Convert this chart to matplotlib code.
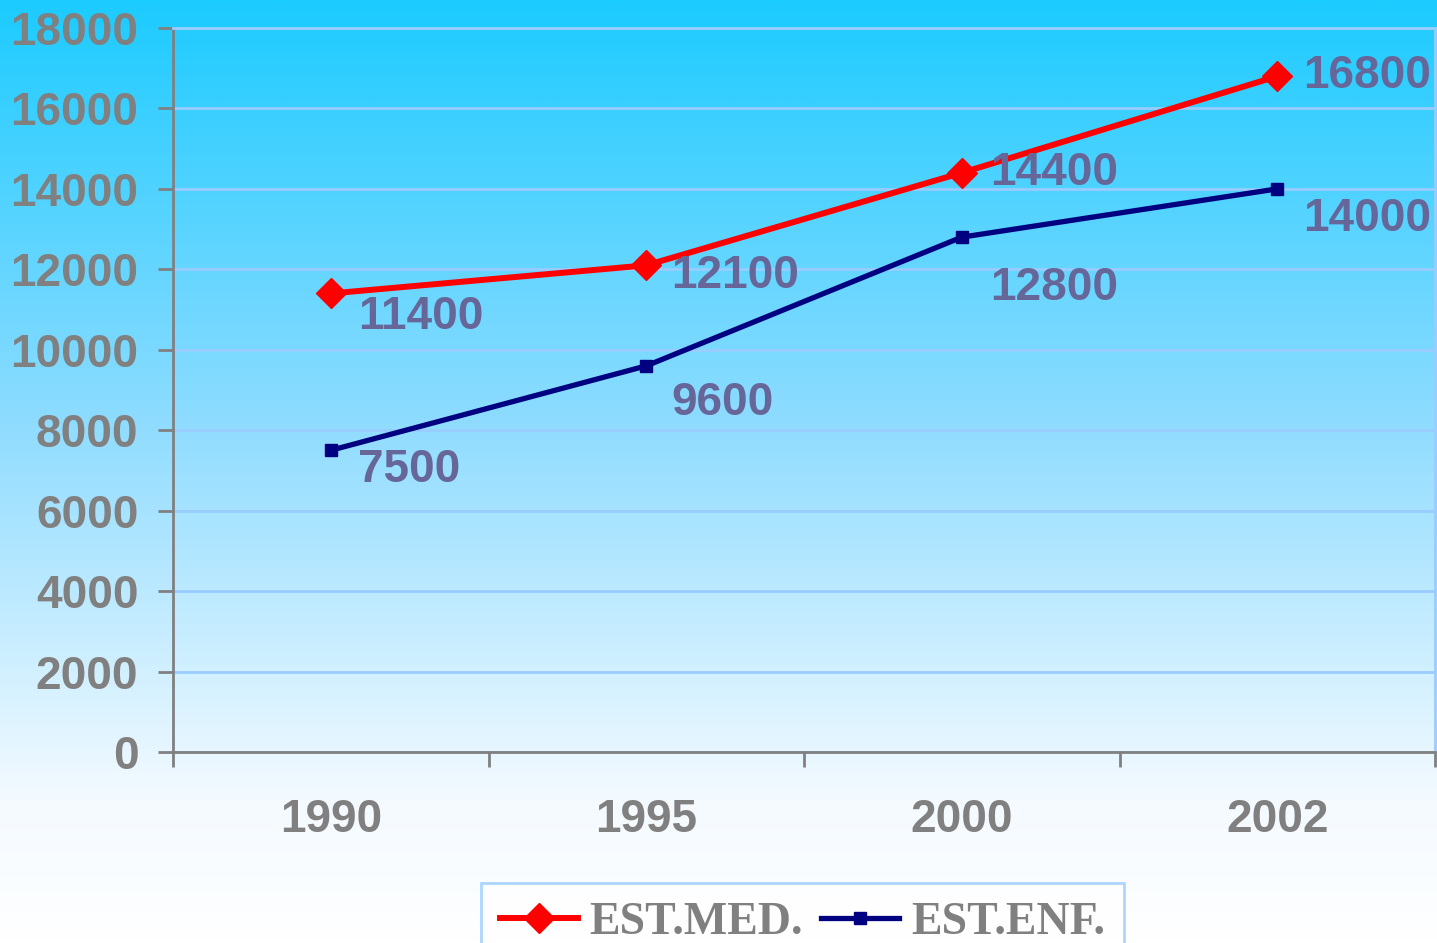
import numpy as np
import matplotlib
matplotlib.use("Agg")
import matplotlib.pyplot as plt
from matplotlib.colors import LinearSegmentedColormap

# данные
years = ["1990", "1995", "2000", "2002"]
est_med = [11400, 12100, 14400, 16800]
est_enf = [7500, 9600, 12800, 14000]
y_ticks = [0, 2000, 4000, 6000, 8000, 10000, 12000, 14000, 16000, 18000]

# смещения подписей (пиксели)
med_off = [(27, -24), (25, -11), (28, 0), (26, 0)]
enf_off = [(27, -20), (25, -37), (28, -51), (26, -30)]

W, H = 1437, 943
fig = plt.figure(figsize=(W / 100, H / 100), dpi=100)

# фон: градиент от голубого к белому
bg = fig.add_axes([0, 0, 1, 1], zorder=0)
grad = np.linspace(0, 1, 512).reshape(-1, 1)
cmap = LinearSegmentedColormap.from_list("bg", [(0.0, "#1ccbff"), (0.45, "#8fdcff"),
                                                 (0.85, "#f4faff"), (1.0, "#ffffff")])
bg.imshow(grad, aspect="auto", cmap=cmap, extent=[0, 1, 0, 1])
bg.axis("off")

ax = fig.add_axes([173 / W, 191 / H, (1435 - 173) / W, (752 - 28) / H], zorder=1)
ax.patch.set_alpha(0)

x = np.arange(len(years))
ax.plot(x, est_med, color="red", lw=4.3, marker="D", ms=15, label="EST.MED.", zorder=3)
ax.plot(x, est_enf, color="#000080", lw=3.8, marker="s", ms=9, label="EST.ENF.", zorder=3)

lab = dict(color="#666699", fontsize=33, fontweight="bold", family="Liberation Sans",
           ha="left", va="center", textcoords="offset pixels", zorder=4)
for xi, v, off in zip(x, est_med, med_off):
    ax.annotate(str(v), (xi, v), xytext=off, **lab)
for xi, v, off in zip(x, est_enf, enf_off):
    ax.annotate(str(v), (xi, v), xytext=off, **lab)

ax.set_xlim(-0.5, len(years) - 0.5)
ax.set_ylim(0, 18000)
ax.set_yticks(y_ticks)
ax.set_yticklabels([str(t) for t in y_ticks])
ax.set_xticks(np.arange(-0.5, len(years), 1.0))
ax.set_xticklabels([])
ax.set_xticks(x, minor=True)
ax.set_xticklabels(years, minor=True)

ax.yaxis.grid(True, color="#99ccff", lw=2)
ax.set_axisbelow(True)

for s in ["left", "bottom"]:
    ax.spines[s].set_color("#808080")
    ax.spines[s].set_linewidth(2)
for s in ["top", "right"]:
    ax.spines[s].set_color("#99ccff")
    ax.spines[s].set_linewidth(2)

ax.tick_params(axis="both", which="major", direction="out", length=11, width=2, color="#808080")
ax.tick_params(axis="y", pad=14, labelsize=33, labelcolor="#808080")
ax.tick_params(axis="x", which="minor", length=0, pad=33, labelsize=33, labelcolor="#808080")
for t in ax.get_yticklabels() + ax.get_xticklabels(minor=True):
    t.set_fontweight("bold")
    t.set_family("Liberation Sans")

leg = fig.legend(loc="upper left", bbox_to_anchor=(481 / W, 1 - 883 / H),
                 prop={"family": "Liberation Serif", "weight": "bold", "size": 33},
                 ncol=2, frameon=True, fancybox=False, handlelength=1.7,
                 handletextpad=0.25, columnspacing=0.4, borderpad=0.42, borderaxespad=0)
leg.get_frame().set_edgecolor("#99ccff")
leg.get_frame().set_linewidth(2)
for t in leg.get_texts():
    t.set_color("#808080")

fig.savefig("out.png", dpi=100)
